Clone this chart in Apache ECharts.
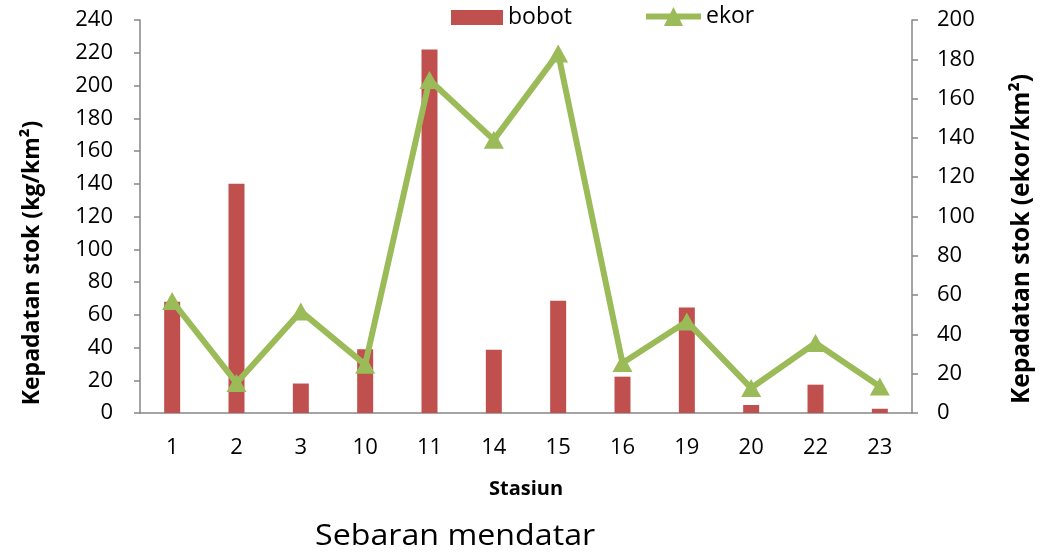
<!DOCTYPE html>
<html>
<head>
<meta charset="utf-8">
<script src="https://cdn.jsdelivr.net/npm/echarts@6/dist/echarts.min.js"></script>
<style>
  html, body { margin: 0; padding: 0; background: #fff; }
  #chart { width: 1047px; height: 557px; }
</style>
</head>
<body>
<div id="chart"></div>
<script>
// 数据
const stasiun = ['1', '2', '3', '10', '11', '14', '15', '16', '19', '20', '22', '23'];
const bobot = [68, 140, 18, 39, 222, 38.7, 68.5, 22.2, 64.4, 4.9, 17.3, 2.6];
const ekor = [57, 15.3, 51.7, 24.6, 169.5, 139, 183, 25.4, 46.6, 12.7, 35.6, 13.5];
const leftTicks = { min: 0, max: 240, interval: 20 };
const rightTicks = { min: 0, max: 200, interval: 20 };

const FONT = '"Open Sans", "Noto Sans", sans-serif';
const axisGray = '#868686';

const chart = echarts.init(document.getElementById('chart'));

const labelStyle = { fontFamily: FONT, fontSize: 22, color: '#000' };
const legendText = { fontFamily: FONT, fontSize: 23, color: '#000' };

// 旋转的坐标轴标题
function axisTitle(text, x, y, size) {
  return {
    type: 'text',
    x: x,
    y: y,
    rotation: Math.PI / 2,
    style: {
      text: text,
      fontFamily: FONT,
      fontSize: size,
      fontWeight: 'bold',
      fill: '#000',
      align: 'center',
      verticalAlign: 'middle'
    }
  };
}

const option = {
  animation: false,
  backgroundColor: '#ffffff',
  textStyle: { fontFamily: FONT },
  grid: {
    left: 140,
    right: 135,
    top: 20,
    bottom: 144
  },
  legend: [
    {
      top: 6,
      left: 451,
      padding: 0,
      itemWidth: 52,
      itemHeight: 15,
      textStyle: legendText,
      data: [{ name: 'bobot', icon: 'rect' }]
    },
    {
      top: 5,
      left: 643,
      padding: 0,
      itemWidth: 55,
      itemHeight: 24,
      textStyle: legendText,
      data: [{ name: 'ekor', lineStyle: { width: 6 } }]
    }
  ],
  xAxis: {
    type: 'category',
    data: stasiun,
    name: 'Stasiun',
    nameLocation: 'middle',
    nameGap: 66,
    nameTextStyle: { fontFamily: FONT, fontSize: 20, fontWeight: 'bold', color: '#000' },
    axisLine: { lineStyle: { color: axisGray, width: 1.5 } },
    axisTick: { show: false },
    axisLabel: Object.assign({}, labelStyle, { margin: 24 })
  },
  yAxis: [
    {
      type: 'value',
      position: 'left',
      min: leftTicks.min,
      max: leftTicks.max,
      interval: leftTicks.interval,
      axisLine: { show: true, lineStyle: { color: axisGray, width: 1.5 } },
      axisTick: { show: true, length: 6, lineStyle: { color: axisGray, width: 1.5 } },
      axisLabel: Object.assign({}, labelStyle, { margin: 27 }),
      splitLine: { show: false }
    },
    {
      type: 'value',
      position: 'right',
      min: rightTicks.min,
      max: rightTicks.max,
      interval: rightTicks.interval,
      axisLine: { show: true, lineStyle: { color: axisGray, width: 1.5 } },
      axisTick: { show: true, length: 6, lineStyle: { color: axisGray, width: 1.5 } },
      axisLabel: Object.assign({}, labelStyle, { margin: 25 }),
      splitLine: { show: false }
    }
  ],
  graphic: [
    axisTitle('Kepadatan stok (kg/km²)', 32, 263, 23),
    axisTitle('Kepadatan stok (ekor/km²)', 1022, 239, 24.5),
    {
      type: 'text',
      left: 315,
      top: 522,
      scaleX: 1.11,
      style: {
        text: 'Sebaran mendatar',
        fontFamily: FONT,
        fontSize: 29,
        fill: '#000'
      }
    }
  ],
  series: [
    {
      name: 'bobot',
      type: 'bar',
      yAxisIndex: 0,
      data: bobot,
      barWidth: 16,
      itemStyle: { color: '#C0504D' }
    },
    {
      name: 'ekor',
      type: 'line',
      yAxisIndex: 1,
      data: ekor,
      symbol: 'triangle',
      symbolSize: [20, 18],
      showAllSymbol: true,
      lineStyle: { color: '#9BBB59', width: 6 },
      itemStyle: { color: '#9BBB59', borderWidth: 0 }
    }
  ]
};

chart.setOption(option);
</script>
</body>
</html>
